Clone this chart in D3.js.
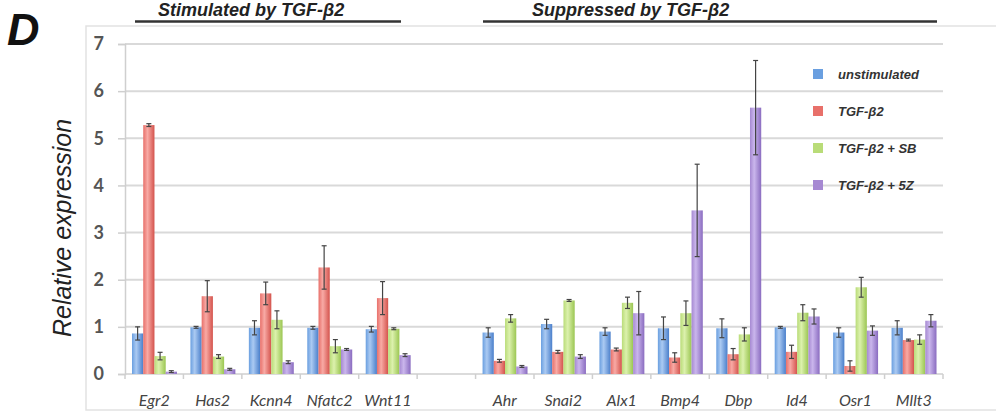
<!DOCTYPE html>
<html>
<head>
<meta charset="utf-8">
<script src="https://cdn.jsdelivr.net/npm/d3@7"></script>
<style>
  body { margin: 0; background: #fff; }
  svg { display: block; }
</style>
</head>
<body>
<div id="chart"></div>
<script>
// genes, left block then right block (a blank slot sits between them)
var stimGenes = ["Egr2", "Has2", "Kcnn4", "Nfatc2", "Wnt11"];
var suppGenes = ["Ahr", "Snai2", "Alx1", "Bmp4", "Dbp", "Id4", "Osr1", "Mllt3"];
var seriesNames = ["unstimulated", "TGF-\u03b22", "TGF-\u03b22 + SB", "TGF-\u03b22 + 5Z"];
var yTicks = [0, 1, 2, 3, 4, 5, 6, 7];

// values per gene (stim genes first, then supp genes)
var unstim    = [0.86, 0.99, 0.98, 0.98, 0.95, 0.88, 1.06, 0.90, 0.97, 0.97, 0.99, 0.88, 0.98];
var unstimErr = [0.14, 0.02, 0.15, 0.03, 0.06, 0.10, 0.10, 0.08, 0.24, 0.20, 0.02, 0.10, 0.15];
var tgf       = [5.28, 1.65, 1.71, 2.26, 1.61, 0.28, 0.47, 0.52, 0.35, 0.42, 0.47, 0.17, 0.72];
var tgfErr    = [0.03, 0.33, 0.24, 0.46, 0.35, 0.03, 0.03, 0.03, 0.10, 0.12, 0.14, 0.11, 0.02];
var tgfSB     = [0.38, 0.37, 1.15, 0.59, 0.96, 1.18, 1.56, 1.51, 1.29, 0.84, 1.30, 1.84, 0.73];
var tgfSBErr  = [0.08, 0.04, 0.19, 0.14, 0.02, 0.08, 0.02, 0.12, 0.26, 0.14, 0.17, 0.21, 0.10];
var tgf5Z     = [0.05, 0.10, 0.25, 0.52, 0.40, 0.16, 0.37, 1.29, 3.47, 5.65, 1.22, 0.92, 1.13];
var tgf5ZErr  = [0.02, 0.02, 0.03, 0.02, 0.03, 0.02, 0.04, 0.46, 0.98, 1.00, 0.16, 0.10, 0.13];

var genes = stimGenes.concat(suppGenes);
var values = [unstim, tgf, tgfSB, tgf5Z];
var errors = [unstimErr, tgfErr, tgfSBErr, tgf5ZErr];

// colours: [edge, light, dark]
var shades = [
  ["#6a9fe0", "#abcaf2", "#4a7fcb"],
  ["#e8706a", "#f8aaa5", "#d4534c"],
  ["#b9dc78", "#dcf1ad", "#9bc652"],
  ["#a689d2", "#cab6ec", "#8a6cc0"]
];

var W = 996, H = 414;
var margin = {top: 44, left: 125, right: 53, bottom: 40};
var plotW = W - margin.left - margin.right,
    plotH = H - margin.top - margin.bottom;

var svg = d3.select("#chart").append("svg")
  .attr("width", W).attr("height", H);

// gradients for the bars
var defs = svg.append("defs");
shades.forEach(function(s, i) {
  var g = defs.append("linearGradient").attr("id", "grad" + i)
    .attr("x1", "0%").attr("x2", "100%").attr("y1", "0%").attr("y2", "0%");
  g.append("stop").attr("offset", "0%").attr("stop-color", s[0]);
  g.append("stop").attr("offset", "38%").attr("stop-color", s[1]);
  g.append("stop").attr("offset", "100%").attr("stop-color", s[2]);
});

// outer frame
svg.append("rect")
  .attr("x", 86).attr("y", 26).attr("width", 920).attr("height", 384)
  .attr("fill", "none").attr("stroke", "#e2e2e2").attr("stroke-width", 1.5);

var g = svg.append("g")
  .attr("transform", "translate(" + margin.left + "," + margin.top + ")");

var slots = stimGenes.concat([" "], suppGenes);
var x = d3.scaleBand().domain(slots).range([0, plotW]).paddingInner(0).paddingOuter(0);
var x1 = d3.scaleBand().domain(d3.range(4)).range([7, x.bandwidth() - 6.5]).padding(0);
var y = d3.scaleLinear().domain([0, 7]).range([plotH, 0]);

// gridlines
g.append("g").selectAll("line")
  .data(yTicks.filter(function(d) { return d > 0; }))
  .join("line")
  .attr("x1", 0).attr("x2", plotW)
  .attr("y1", function(d) { return y(d); }).attr("y2", function(d) { return y(d); })
  .attr("stroke", "#d9d9d9").attr("stroke-width", 2);

// y axis
var yAxis = g.append("g")
  .call(d3.axisLeft(y).tickValues(yTicks).tickFormat(d3.format("d")).tickSize(7).tickPadding(14));
yAxis.select(".domain").attr("stroke", "#cfcfcf").attr("stroke-width", 1.5);
yAxis.selectAll(".tick line").attr("stroke", "#cfcfcf").attr("stroke-width", 1.5);
yAxis.selectAll("text")
  .attr("fill", "#555").style("font-family", "Lato, 'Open Sans', sans-serif")
  .style("font-size", "18px").style("font-weight", "bold");

// x axis: line and ticks at band edges
var xAxisG = g.append("g").attr("transform", "translate(0," + plotH + ")");
xAxisG.append("line").attr("x1", 0).attr("x2", plotW)
  .attr("stroke", "#cfcfcf").attr("stroke-width", 1.5);
xAxisG.selectAll(".xt")
  .data(slots.concat(["end"]))
  .join("line").attr("class", "xt")
  .attr("x1", function(d, i) { return i * x.step(); })
  .attr("x2", function(d, i) { return i * x.step(); })
  .attr("y1", 0).attr("y2", 5)
  .attr("stroke", "#cfcfcf").attr("stroke-width", 1.5);
xAxisG.selectAll(".xl")
  .data(genes)
  .join("text").attr("class", "xl")
  .attr("x", function(d) { return x(d) + x.bandwidth() / 2; })
  .attr("y", 32)
  .attr("text-anchor", "middle")
  .attr("fill", "#444")
  .style("font-family", "Lato, 'Open Sans', sans-serif")
  .style("font-style", "italic")
  .style("font-size", "16px")
  .text(function(d) { return d; });

// bars
var bars = [];
genes.forEach(function(gene, gi) {
  for (var s = 0; s < 4; s++) {
    bars.push({gene: gene, s: s, v: values[s][gi], e: errors[s][gi]});
  }
});

g.append("g").selectAll("rect")
  .data(bars)
  .join("rect")
  .attr("x", function(d) { return x(d.gene) + x1(d.s); })
  .attr("y", function(d) { return y(d.v); })
  .attr("width", x1.bandwidth())
  .attr("height", function(d) { return y(0) - y(d.v); })
  .attr("fill", function(d) { return "url(#grad" + d.s + ")"; });

// error bars
var eb = g.append("g").selectAll("g")
  .data(bars)
  .join("g")
  .attr("transform", function(d) { return "translate(" + (x(d.gene) + x1(d.s) + x1.bandwidth() / 2) + ",0)"; });
eb.append("line")
  .attr("y1", function(d) { return y(d.v + d.e); })
  .attr("y2", function(d) { return y(Math.max(0, d.v - d.e)); })
  .attr("stroke", "#444").attr("stroke-width", 1.2);
eb.append("line")
  .attr("x1", -2.5).attr("x2", 2.5)
  .attr("y1", function(d) { return y(d.v + d.e); })
  .attr("y2", function(d) { return y(d.v + d.e); })
  .attr("stroke", "#444").attr("stroke-width", 1.2);
eb.append("line")
  .attr("x1", -2.5).attr("x2", 2.5)
  .attr("y1", function(d) { return y(Math.max(0, d.v - d.e)); })
  .attr("y2", function(d) { return y(Math.max(0, d.v - d.e)); })
  .attr("stroke", "#444").attr("stroke-width", 1.2);

// legend
var legend = svg.append("g").attr("transform", "translate(813,74)");
var li = legend.selectAll("g").data(seriesNames).join("g")
  .attr("transform", function(d, i) { return "translate(0," + (i * 37) + ")"; });
li.append("rect").attr("x", 0).attr("y", -5).attr("width", 10).attr("height", 10)
  .attr("fill", function(d, i) { return shades[i][0]; });
li.append("text").attr("x", 25).attr("y", 5)
  .attr("fill", "#333")
  .style("font-family", "'Liberation Sans', Arial, sans-serif")
  .style("font-weight", "bold").style("font-style", "italic")
  .style("font-size", "13px")
  .text(function(d) { return d; });

// y label
svg.append("text")
  .attr("transform", "translate(71,228) rotate(-90)")
  .attr("text-anchor", "middle")
  .attr("fill", "#222")
  .style("font-family", "'Liberation Sans', Arial, sans-serif")
  .style("font-style", "italic")
  .style("font-size", "25px")
  .text("Relative expression");

// panel letter
svg.append("text")
  .attr("x", 7).attr("y", 45)
  .attr("fill", "#111")
  .style("font-family", "'Liberation Sans', Arial, sans-serif")
  .style("font-weight", "bold").style("font-style", "italic")
  .style("font-size", "45px")
  .text("D");

// group headers with underline
var headers = [
  {label: "Stimulated by TGF-\u03b2", x0: 135, x1: 401, tx: 158},
  {label: "Suppressed by TGF-\u03b2", x0: 483, x1: 937, tx: 532}
];
headers.forEach(function(h) {
  svg.append("line")
    .attr("x1", h.x0).attr("x2", h.x1).attr("y1", 21.5).attr("y2", 21.5)
    .attr("stroke", "#333").attr("stroke-width", 2.5);
  svg.append("text")
    .attr("x", h.tx).attr("y", 16)
    .attr("fill", "#222")
    .style("font-family", "'Liberation Sans', Arial, sans-serif")
    .style("font-weight", "bold").style("font-style", "italic")
    .style("font-size", "18px")
    .text(h.label + "2");
});
</script>
</body>
</html>
